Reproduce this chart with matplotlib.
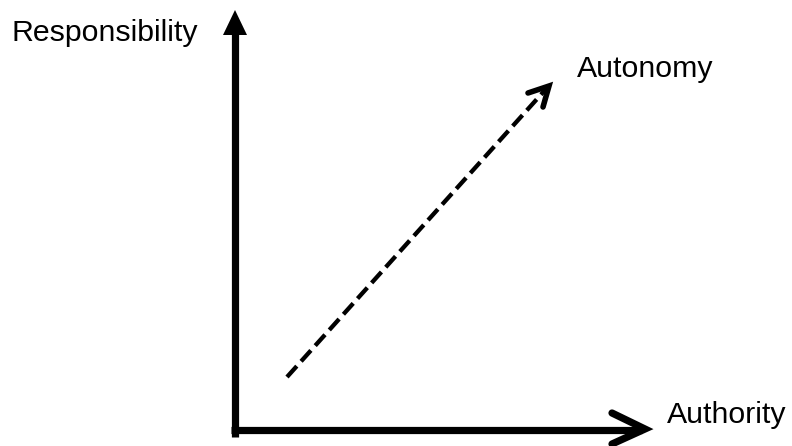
import matplotlib
matplotlib.use("Agg")
import matplotlib.pyplot as plt
from matplotlib.patches import Polygon

W, H = 792, 446
# diagram geometry (pixel coordinates, y downwards)
vert_axis_x = [235, 235]
vert_axis_y = [437, 32]
vert_head = [(223, 35), (247, 35), (235, 10)]
horiz_axis_x = [231, 642]
horiz_axis_y = [430, 430]
horiz_head_x = [612, 645, 612]
horiz_head_y = [413, 429, 444]
dash_x = [287, 546]
dash_y = [377, 89]
dash_head_x = [528, 549, 543]
dash_head_y = [93, 86, 107]
labels = ["Responsibility", "Autonomy", "Authority"]
label_x = [12, 577, 667]
label_y = [41, 77, 423]

fig = plt.figure(figsize=(W / 100, H / 100), dpi=100)
ax = fig.add_axes([0, 0, 1, 1])
ax.set_xlim(0, W)
ax.set_ylim(H, 0)
ax.axis("off")

lw_axis = 5.2
ax.plot(vert_axis_x, vert_axis_y, color="black", lw=lw_axis, solid_capstyle="butt")
ax.add_patch(Polygon(vert_head, closed=True, color="black", lw=0))
ax.plot(horiz_axis_x, horiz_axis_y, color="black", lw=lw_axis, solid_capstyle="butt")
ax.plot(horiz_head_x, horiz_head_y, color="black", lw=lw_axis,
        solid_capstyle="round", solid_joinstyle="miter")

ax.plot(dash_x, dash_y, color="black", lw=3.1, dashes=(3.4, 1.5), dash_capstyle="butt")
ax.plot(dash_head_x, dash_head_y, color="black", lw=4.0,
        solid_capstyle="round", solid_joinstyle="miter")

for t, x, y in zip(labels, label_x, label_y):
    ax.text(x, y, t, fontsize=21.8, family="Liberation Sans", ha="left", va="baseline",
            color="black")

fig.savefig("out.png", dpi=100)
